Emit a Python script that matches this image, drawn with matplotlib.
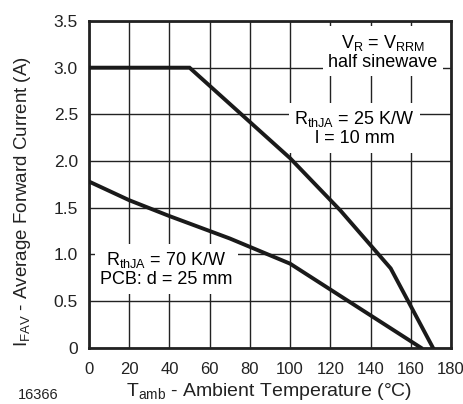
import matplotlib
matplotlib.use("Agg")
from matplotlib import pyplot as plt

# curve data
t_25kw = [0, 50, 100, 125, 150, 171]
i_25kw = [3.0, 3.0, 2.03, 1.47, 0.85, 0.0]

t_70kw = [0, 20, 40, 70, 100, 165]
i_70kw = [1.78, 1.58, 1.41, 1.17, 0.90, 0.0]

x_ticks = list(range(0, 181, 20))
y_ticks = [0, 0.5, 1.0, 1.5, 2.0, 2.5, 3.0, 3.5]
y_labels = ["0", "0.5", "1.0", "1.5", "2.0", "2.5", "3.0", "3.5"]

plt.rcParams['font.family'] = ['Liberation Sans', 'DejaVu Sans']

fig = plt.figure(figsize=(4.64, 4.04), dpi=100)
ax = fig.add_axes([0.1918, 0.1394, 0.7802, 0.8086])

ax.set_xlim(0, 180)
ax.set_ylim(0, 3.5)
ax.set_xticks(x_ticks)
ax.set_yticks(y_ticks)
ax.set_yticklabels(y_labels)
ax.tick_params(length=0, colors='#222222')
ax.tick_params(axis='x', pad=10, labelsize=12)
ax.tick_params(axis='y', pad=8, labelsize=12.5)
ax.grid(True, color='#222222', linewidth=1.0)
ax.set_axisbelow(True)
for s in ax.spines.values():
    s.set_linewidth(2.0)
    s.set_color('#222222')

ax.plot(t_25kw, i_25kw, color='#1a1a1a', linewidth=2.8, solid_joinstyle='miter', zorder=3)
ax.plot(t_70kw, i_70kw, color='#1a1a1a', linewidth=2.8, solid_joinstyle='miter', zorder=3)

box = dict(boxstyle='square,pad=0.3', facecolor='white', edgecolor='none')
ax.text(146, 3.17, "V$_\\mathregular{R}$ = V$_\\mathregular{RRM}$\nhalf sinewave",
        ha='center', va='center', fontsize=13, bbox=box, zorder=2, linespacing=1.1)
ax.text(132, 2.35, "R$_\\mathregular{thJA}$ = 25 K/W\nl = 10 mm",
        ha='center', va='center', fontsize=13, bbox=box, zorder=2, linespacing=1.1)
ax.text(38.5, 0.84, "R$_\\mathregular{thJA}$ = 70 K/W\nPCB: d = 25 mm",
        ha='center', va='center', fontsize=13, bbox=box, zorder=2, linespacing=1.1)

fig.text(0.048, 0.5, "I$_\\mathregular{FAV}$ - Average Forward Current (A)",
         rotation=90, ha='center', va='center', fontsize=13.5, color='#222222')
fig.text(0.58, 0.004, "T$_\\mathregular{amb}$ - Ambient Temperature (°C)",
         ha='center', va='bottom', fontsize=14, color='#222222')
fig.text(0.039, 0.006, "16366", ha='left', va='bottom', fontsize=10.5, color='#222222')

fig.savefig("out.png", dpi=100)
